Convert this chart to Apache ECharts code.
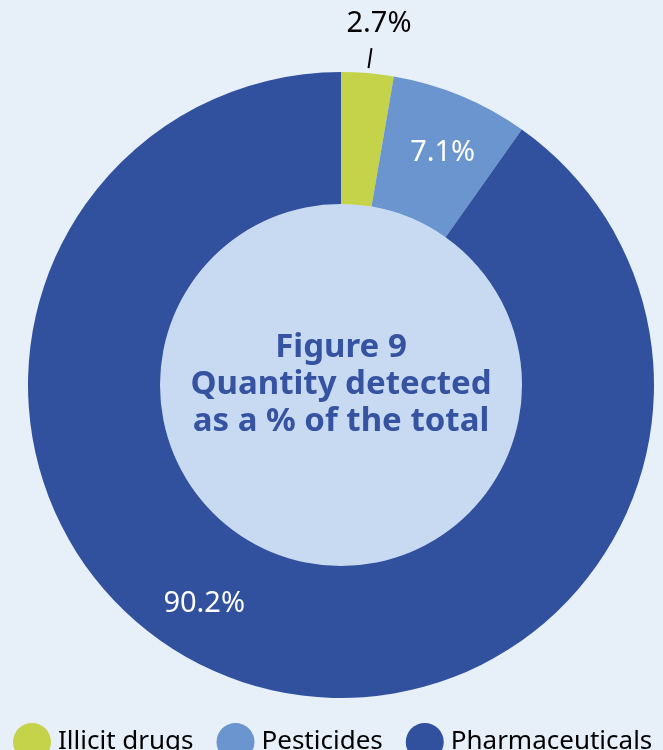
<!DOCTYPE html>
<html>
<head>
<meta charset="utf-8">
<script src="https://cdn.jsdelivr.net/npm/echarts@6/dist/echarts.min.js"></script>
<style>
  html, body { margin: 0; padding: 0; background: #e7eff9; }
  #chart { width: 663px; height: 750px; }
</style>
</head>
<body>
<div id="chart"></div>
<script>
// Share of total quantity detected, by substance group
const categories = ['Illicit drugs', 'Pesticides', 'Pharmaceuticals'];
const shares = [2.7, 7.1, 90.2];
const colors = ['#c5d34a', '#6a95cf', '#31519f'];

const FONT = '"Noto Sans", "Open Sans", sans-serif';
const chart = echarts.init(document.getElementById('chart'));

const labelStyles = [
  { position: 'outside', color: '#000000' },
  { position: 'inside', color: '#ffffff', offset: [6, -1] },
  { position: 'inside', color: '#ffffff', offset: [-61, -20] }
];

const ringData = categories.map((name, i) => ({
  name: name,
  value: shares[i],
  itemStyle: { color: colors[i] },
  label: Object.assign({ show: true, fontSize: 29, fontFamily: FONT, formatter: '{c}%' }, labelStyles[i]),
  labelLine: { show: i === 0 }
}));

chart.setOption({
  backgroundColor: '#e7eff9',
  animation: false,
  textStyle: { fontFamily: FONT },
  legend: {
    data: categories,
    left: 8,
    top: 718,
    icon: 'circle',
    itemWidth: 38,
    itemHeight: 38,
    itemGap: 23,
    textStyle: { fontSize: 26, color: '#000000', fontFamily: FONT, padding: [0, 0, 0, 2] }
  },
  series: [
    {
      type: 'pie',
      center: [341, 385],
      radius: [0, 181],
      silent: true,
      data: [{ value: 1, name: 'center', itemStyle: { color: '#c8daf2' } }],
      label: {
        show: true,
        position: 'center',
        formatter: 'Figure 9\nQuantity detected\nas a % of the total',
        fontSize: 33,
        fontWeight: 'bold',
        lineHeight: 37,
        color: '#3553a0',
        fontFamily: FONT
      },
      labelLine: { show: false }
    },
    {
      type: 'pie',
      center: [341, 385],
      radius: [181, 313],
      startAngle: 90,
      clockwise: true,
      data: ringData,
      labelLine: { length: 22, length2: 0, lineStyle: { color: '#000000', width: 2 } },
      // the small slice's label sits centred above a short leader line
      labelLayout: function (params) {
        if (params.dataIndex === 0) {
          const pts = params.labelLinePoints;
          const p0 = pts ? pts[0] : [368, 72];
          return {
            x: 379, y: 24, align: 'center', verticalAlign: 'middle',
            labelLinePoints: [[p0[0] + 1, p0[1] - 5], [p0[0] + 4, p0[1] - 25]]
          };
        }
        return {};
      },
      itemStyle: { borderWidth: 0 }
    }
  ]
});
</script>
</body>
</html>
